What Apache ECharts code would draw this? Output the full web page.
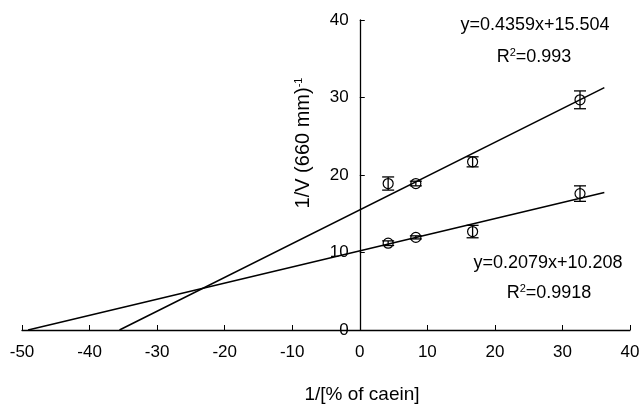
<!DOCTYPE html>
<html>
<head>
<meta charset="utf-8">
<script src="https://cdn.jsdelivr.net/npm/echarts@6/dist/echarts.min.js"></script>
<style>
  html, body { margin: 0; padding: 0; background: #fff; }
  #chart { width: 641px; height: 408px; }
</style>
</head>
<body>
<div id="chart"></div>
<script>
// x = 1/[% of casein]
const xValues = [4.2, 8.3, 16.7, 32.6];
const upperY = [18.9, 18.9, 21.7, 29.7];
const upperErr = [0.85, 0.3, 0.65, 1.15];
const lowerY = [11.2, 11.95, 12.7, 17.6];
const lowerErr = [0.3, 0.2, 0.8, 1.0];

// fitted line end points (from the printed equations)
const upperLine = [[-35.57, 0], [36.2, 31.28]];
const lowerLine = [[-49.1, 0], [36.2, 17.73]];

const xTicks = [-50, -40, -30, -20, -10, 0, 10, 20, 30, 40];
const yTicks = [0, 10, 20, 30, 40];

const FONT = "Liberation Sans, Arial, sans-serif";
const GRID_LEFT = 22, GRID_RIGHT = 11;
const el = echarts.init(document.getElementById("chart"));

// y axis sits on x = 0, so shift it right by the pixel distance of 0 from the left edge
const plotW = 641 - GRID_LEFT - GRID_RIGHT;
const yAxisShift = plotW * (0 - xTicks[0]) / (xTicks[xTicks.length - 1] - xTicks[0]);

function pairs(ys) {
  return xValues.map((x, i) => [x, ys[i]]);
}
function errData(ys, errs) {
  return xValues.map((x, i) => [x, ys[i] - errs[i], ys[i] + errs[i]]);
}

function renderErr(params, api) {
  const x = api.value(0);
  const lo = api.coord([x, api.value(1)]);
  const hi = api.coord([x, api.value(2)]);
  const w = 6;
  const st = { stroke: "#000", lineWidth: 1.3 };
  return {
    type: "group",
    children: [
      { type: "line", shape: { x1: lo[0], y1: lo[1], x2: hi[0], y2: hi[1] }, style: st },
      { type: "line", shape: { x1: lo[0] - w, y1: lo[1], x2: lo[0] + w, y2: lo[1] }, style: st },
      { type: "line", shape: { x1: hi[0] - w, y1: hi[1], x2: hi[0] + w, y2: hi[1] }, style: st }
    ]
  };
}

const supRich = {
  sup: { fontSize: 11, fontFamily: FONT, verticalAlign: "top", padding: [0, 0, 8, 0], fill: "#000" }
};
const txt = (text, x, y, size) => ({
  type: "text", x: x, y: y,
  style: {
    text: text, fill: "#000", fontSize: size, fontFamily: FONT,
    align: "center", verticalAlign: "middle", rich: supRich
  }
});

const options = {
  animation: false,
  backgroundColor: "#fff",
  grid: { left: GRID_LEFT, right: GRID_RIGHT, top: 20, bottom: 78, outerBoundsMode: "none" },
  xAxis: {
    type: "value",
    min: -50,
    max: 40,
    interval: 10,
    axisLine: { onZero: false, lineStyle: { color: "#000", width: 1.3 } },
    axisTick: { inside: true, length: 5, lineStyle: { color: "#000" } },
    splitLine: { show: false },
    axisLabel: {
      color: "#000", fontSize: 17, fontFamily: FONT, margin: 14,
      formatter: v => (xTicks.includes(v) ? String(v) : "")
    }
  },
  yAxis: {
    type: "value",
    min: 0,
    max: 40,
    interval: 10,
    offset: -yAxisShift,
    axisLine: { show: true, onZero: false, lineStyle: { color: "#000", width: 1.3 } },
    axisTick: { show: true, inside: true, length: 5, lineStyle: { color: "#000" } },
    splitLine: { show: false },
    axisLabel: {
      color: "#000", fontSize: 17, fontFamily: FONT, margin: 11,
      formatter: v => (yTicks.includes(v) ? String(v) : "")
    }
  },
  graphic: [
    Object.assign(txt("1/V (660 mm){sup|-1}", 303, 143, 20), { rotation: Math.PI / 2 }),
    txt("1/[% of caein]", 362, 395, 19),
    txt("y=0.4359x+15.504", 535, 25, 18),
    txt("R{sup|2}=0.993", 534, 57, 18),
    txt("y=0.2079x+10.208", 548, 263, 18),
    txt("R{sup|2}=0.9918", 549, 293, 18)
  ],
  series: [
    {
      type: "line", data: upperLine, symbol: "none",
      lineStyle: { color: "#000", width: 1.5 }, z: 2
    },
    {
      type: "line", data: lowerLine, symbol: "none",
      lineStyle: { color: "#000", width: 1.5 }, z: 2
    },
    {
      type: "scatter", data: pairs(upperY), symbol: "circle", symbolSize: 10,
      itemStyle: { color: "rgba(0,0,0,0)", borderColor: "#000", borderWidth: 1.2, opacity: 1 }, z: 3
    },
    {
      type: "scatter", data: pairs(lowerY), symbol: "circle", symbolSize: 10,
      itemStyle: { color: "rgba(0,0,0,0)", borderColor: "#000", borderWidth: 1.2, opacity: 1 }, z: 3
    },
    {
      type: "custom", data: errData(upperY, upperErr), renderItem: renderErr, z: 4
    },
    {
      type: "custom", data: errData(lowerY, lowerErr), renderItem: renderErr, z: 4
    }
  ]
};

el.setOption(options);
</script>
</body>
</html>
